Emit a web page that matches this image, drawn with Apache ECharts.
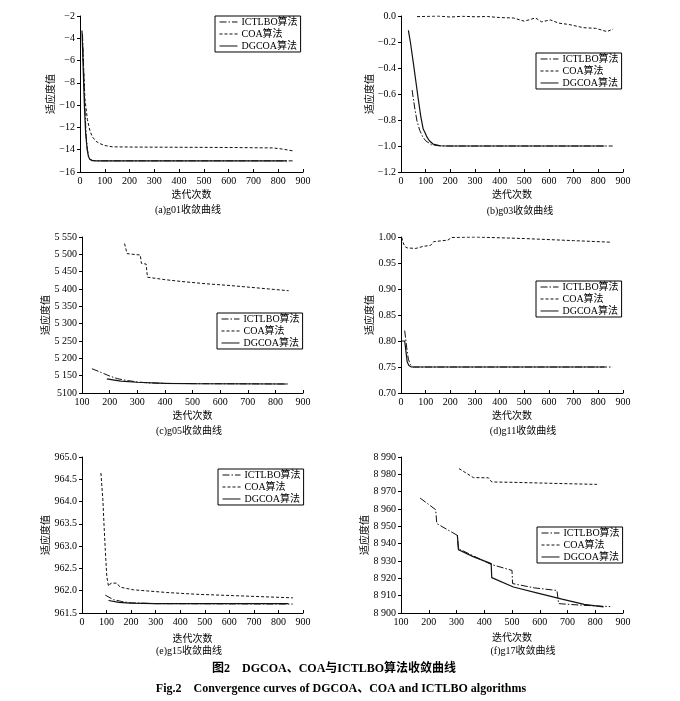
<!DOCTYPE html>
<html>
<head>
<meta charset="utf-8">
<script src="https://cdn.jsdelivr.net/npm/echarts@6/dist/echarts.min.js"></script>
<style>
html,body{margin:0;padding:0;background:#fff;}
#chart{width:680px;height:701px;}
</style>
</head>
<body>
<div id="chart"></div>
<script>
// ---------- data ----------
const seriesNames = ['ICTLBO算法', 'COA算法', 'DGCOA算法'];
const captions = ['(a)g01收敛曲线', '(b)g03收敛曲线', '(c)g05收敛曲线', '(d)g11收敛曲线', '(e)g15收敛曲线', '(f)g17收敛曲线'];
const xAxisName = '迭代次数';
const yAxisName = '适应度值';
const figTitleCN = '图2　DGCOA、COA与ICTLBO算法收敛曲线';
const figTitleEN = 'Fig.2　Convergence curves of DGCOA、COA and ICTLBO algorithms';

// tick labels
const xTicks0 = ['0', '100', '200', '300', '400', '500', '600', '700', '800', '900'];
const xTicks100 = ['100', '200', '300', '400', '500', '600', '700', '800', '900'];
const yTicksA = ['−16', '−14', '−12', '−10', '−8', '−6', '−4', '−2'];
const yTicksB = ['−1.2', '−1.0', '−0.8', '−0.6', '−0.4', '−0.2', '0.0'];
const yTicksC = ['5100', '5 150', '5 200', '5 250', '5 300', '5 350', '5 400', '5 450', '5 500', '5 550'];
const yTicksD = ['0.70', '0.75', '0.80', '0.85', '0.90', '0.95', '1.00'];
const yTicksE = ['961.5', '962.0', '962.5', '963.0', '963.5', '964.0', '964.5', '965.0'];
const yTicksF = ['8 900', '8 910', '8 920', '8 930', '8 940', '8 950', '8 960', '8 970', '8 980', '8 990'];

// (a) g01
const ictlboA = [[10,-3.6],[15,-7.0],[20,-10.5],[25,-12.8],[30,-14.0],[35,-14.6],[40,-14.85],[50,-14.97],[70,-15.0],[858,-15.0]];
const coaA = [[10,-4.0],[15,-6.8],[20,-9.5],[30,-11.3],[40,-12.3],[50,-12.85],[65,-13.25],[80,-13.45],[100,-13.62],[130,-13.74],[200,-13.76],[400,-13.78],[600,-13.8],[780,-13.84],[820,-13.95],[858,-14.1]];
const dgcoaA = [[8,-3.3],[13,-6.8],[18,-10.2],[23,-12.6],[29,-14.0],[34,-14.6],[40,-14.87],[50,-14.98],[70,-15.0],[835,-15.0]];
// (b) g03
const ictlboB = [[45,-0.57],[55,-0.70],[65,-0.81],[76,-0.88],[88,-0.93],[100,-0.96],[123,-0.99],[160,-1.0],[858,-1.0]];
const coaB = [[65,-0.005],[100,-0.003],[150,0.0],[200,-0.008],[250,-0.002],[300,-0.006],[350,-0.004],[400,-0.012],[455,-0.015],[500,-0.04],[545,-0.015],[570,-0.045],[605,-0.03],[640,-0.055],[680,-0.065],[740,-0.09],[790,-0.095],[835,-0.12],[860,-0.1]];
const dgcoaB = [[30,-0.11],[38,-0.2],[50,-0.36],[60,-0.5],[70,-0.64],[80,-0.77],[90,-0.87],[98,-0.9],[105,-0.93],[115,-0.96],[130,-0.985],[160,-0.998],[200,-1.0],[825,-1.0]];
// (c) g05
const ictlboC = [[136,5170],[170,5159],[203,5148],[230,5141],[263,5136],[300,5132],[340,5129],[400,5128],[500,5127],[850,5126]];
const coaC = [[254,5531],[263,5502],[311,5498],[315,5474],[332,5472],[337,5434],[400,5427],[456,5422],[550,5415],[637,5410],[750,5402],[848,5395]];
const dgcoaC = [[190,5141],[240,5134],[300,5131],[400,5128],[500,5127],[840,5126]];
// (d) g11
const ictlboD = [[15,0.82],[20,0.80],[25,0.78],[30,0.765],[38,0.755],[50,0.75],[858,0.75]];
const coaD = [[3,0.999],[8,0.99],[15,0.982],[25,0.979],[60,0.978],[90,0.982],[120,0.984],[132,0.991],[190,0.994],[205,0.999],[300,1.0],[500,0.997],[700,0.993],[850,0.99]];
const dgcoaD = [[2,0.80],[15,0.80],[20,0.78],[25,0.76],[32,0.753],[42,0.75],[825,0.75]];
// (e) g15
const ictlboE = [[95,961.9],[128,961.8],[160,961.76],[196,961.73],[250,961.72],[300,961.71],[858,961.7]];
const coaE = [[77,964.64],[85,964.04],[90,963.44],[95,962.9],[101,962.32],[108,962.1],[118,962.17],[142,962.17],[155,962.08],[210,962.02],[345,961.96],[467,961.92],[616,961.89],[859,961.84]];
const dgcoaE = [[108,961.78],[150,961.74],[196,961.72],[300,961.71],[840,961.71]];
// (f) g17
const ictlboF = [[169,8966.3],[225,8959.6],[229,8951.6],[303,8944.8],[307,8937.1],[360,8933],[425,8928],[500,8924.6],[502,8917],[580,8914.5],[662,8913],[668,8905.4],[750,8904.5],[854,8903.7]];
const coaF = [[309,8983.3],[361,8978.1],[415,8978],[427,8975.6],[500,8975.4],[600,8975],[700,8974.6],[806,8974.2]];
const dgcoaF = [[303,8945],[307,8936.5],[360,8932.5],[425,8928.5],[427,8920.4],[505,8915],[600,8911.2],[680,8908],[760,8905],[830,8903.5]];

// ---------- layout ----------
const panels = [
  {grid:{left:80, top:16, width:223, height:156}, x:[0,900,100,xTicks0], y:[-16,-2,2,yTicksA], data:[ictlboA,coaA,dgcoaA], legend:{left:215, top:16}, yGap:25, xGap:17, cap:[188,210]},
  {grid:{left:401, top:16, width:222, height:156}, x:[0,900,100,xTicks0], y:[-1.2,0,0.2,yTicksB], data:[ictlboB,coaB,dgcoaB], legend:{left:536, top:53}, yGap:26, xGap:17, cap:[520,211]},
  {grid:{left:82, top:237, width:221, height:156}, x:[100,900,100,xTicks100], y:[5100,5550,50,yTicksC], data:[ictlboC,coaC,dgcoaC], legend:{left:217, top:313}, yGap:29, xGap:17, cap:[189,431]},
  {grid:{left:401, top:237, width:222, height:156}, x:[0,900,100,xTicks0], y:[0.70,1.00,0.05,yTicksD], data:[ictlboD,coaD,dgcoaD], legend:{left:536, top:281}, yGap:27, xGap:17, cap:[523,431]},
  {grid:{left:82, top:457, width:221, height:156}, x:[0,900,100,xTicks0], y:[961.5,965,0.5,yTicksE], data:[ictlboE,coaE,dgcoaE], legend:{left:218, top:469}, yGap:32, xGap:20, cap:[189,651]},
  {grid:{left:401, top:457, width:222, height:156}, x:[100,900,100,xTicks100], y:[8900,8990,10,yTicksF], data:[ictlboF,coaF,dgcoaF], legend:{left:537, top:527}, yGap:29, xGap:19, cap:[523,651]}
];

const lineStyles = [
  {type:[7,2,1.5,2], width:1},
  {type:[3,2], width:1},
  {type:'solid', width:1.2}
];
const serifFont = "'Liberation Serif','Times New Roman',serif";
const mixFont = "'Liberation Serif','Noto Sans CJK SC',serif";
const cjkFont = "'Noto Sans CJK SC','Liberation Serif',sans-serif";

const option = {
  backgroundColor:'#fff',
  animation:false,
  grid:[], xAxis:[], yAxis:[], series:[], legend:[], graphic:[]
};

panels.forEach((p, i) => {
  option.grid.push(Object.assign({containLabel:false}, p.grid));
  option.xAxis.push({
    type:'value', gridIndex:i, min:p.x[0], max:p.x[1], interval:p.x[2],
    name:xAxisName, nameLocation:'middle', nameGap:p.xGap,
    nameTextStyle:{fontFamily:cjkFont, fontSize:10, color:'#000'},
    axisLine:{show:true, onZero:false, lineStyle:{color:'#000', width:1}},
    axisTick:{show:true, inside:true, length:3, lineStyle:{color:'#000'}},
    axisLabel:{fontFamily:serifFont, fontSize:10, color:'#000', margin:4,
      formatter:(v, idx) => p.x[3][idx] !== undefined ? p.x[3][idx] : ''},
    splitLine:{show:false}
  });
  option.yAxis.push({
    type:'value', gridIndex:i, min:p.y[0], max:p.y[1], interval:p.y[2],
    name:yAxisName, nameLocation:'middle', nameGap:p.yGap, nameRotate:90,
    nameTextStyle:{fontFamily:cjkFont, fontSize:10, color:'#000'},
    axisLine:{show:true, onZero:false, lineStyle:{color:'#000', width:1}},
    axisTick:{show:true, inside:false, length:3, lineStyle:{color:'#000'}},
    axisLabel:{fontFamily:serifFont, fontSize:10, color:'#000', margin:5,
      formatter:(v, idx) => p.y[3][idx] !== undefined ? p.y[3][idx] : ''},
    splitLine:{show:false}
  });
  seriesNames.forEach((n, k) => {
    option.series.push({
      type:'line', name:n, xAxisIndex:i, yAxisIndex:i,
      data:p.data[k], symbol:'none', showSymbol:false, smooth:false,
      lineStyle:Object.assign({color:'#111'}, lineStyles[k]),
      itemStyle:{color:'#111'}
    });
  });
  option.legend.push({
    data:seriesNames, orient:'vertical', left:p.legend.left, top:p.legend.top,
    backgroundColor:'#fff', borderColor:'#000', borderWidth:1,
    padding:[1,3,1,4], itemGap:2, itemWidth:18, itemHeight:12,
    selectedMode:false,
    itemStyle:{opacity:0},
    lineStyle:{width:1},
    textStyle:{fontFamily:mixFont, fontSize:10, color:'#000', padding:[0,0,0,-1]}
  });
  option.graphic.push({
    type:'text', x:p.cap[0], y:p.cap[1], silent:true,
    style:{text:captions[i], fill:'#000', font:"10px 'Liberation Serif','Noto Sans CJK SC',serif", align:'center', verticalAlign:'middle'}
  });
});

option.graphic.push({
  type:'text', x:334, y:669, silent:true,
  style:{text:figTitleCN, fill:'#000', font:"bold 12px 'Liberation Serif','Noto Sans CJK SC',serif", align:'center', verticalAlign:'middle'}
});
option.graphic.push({
  type:'text', x:341, y:689, silent:true,
  style:{text:figTitleEN, fill:'#000', font:"bold 12px 'Liberation Serif','Noto Sans CJK SC',serif", align:'center', verticalAlign:'middle'}
});

const chart = echarts.init(document.getElementById('chart'), null, {renderer:'canvas'});
chart.setOption(option);
</script>
</body>
</html>
